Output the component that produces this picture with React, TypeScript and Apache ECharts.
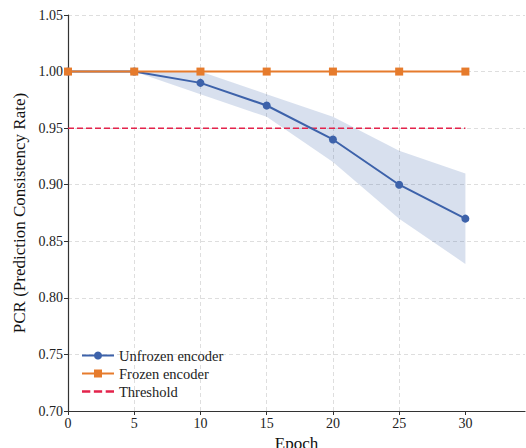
import React, { useEffect, useRef } from "react";
import * as echarts from "echarts";

const epochs = [0, 5, 10, 15, 20, 25, 30];
const unfrozen = [1.0, 1.0, 0.99, 0.97, 0.94, 0.9, 0.87];
const unfrozenUpper = [1.0, 1.0, 1.0, 0.98, 0.96, 0.93, 0.91];
const unfrozenLower = [1.0, 1.0, 0.98, 0.96, 0.92, 0.87, 0.83];
const frozen = [1.0, 1.0, 1.0, 1.0, 1.0, 1.0, 1.0];
const thresholdValue = 0.95;
const xTicks = [0, 5, 10, 15, 20, 25, 30];

const BLUE = "#3d62aa";
const ORANGE = "#e67b2c";
const RED = "#e3234b";
const FONT = "Liberation Serif";

export default function App() {
  const ref = useRef<HTMLDivElement>(null);
  useEffect(() => {
    const chart = echarts.init(ref.current!, null, { renderer: "svg" });
    chart.setOption({
      animation: false,
      textStyle: { fontFamily: FONT },
      grid: { left: 68, right: 1, top: 15, bottom: 37, containLabel: false, outerBoundsMode: "none" },
      legend: {
        left: 76,
        top: 343,
        orient: "vertical",
        itemWidth: 32,
        itemHeight: 10,
        itemGap: 3,
        textStyle: { fontFamily: FONT, fontSize: 14.5, color: "#222" },
        data: [
          "Unfrozen encoder",
          "Frozen encoder",
          {
            name: "Threshold",
            icon: "path://M0,4h7v2h-7zM10,4h7v2h-7zM20,4h7v2h-7z",
            itemStyle: { color: RED },
          },
        ],
      },
      xAxis: {
        type: "value",
        min: 0,
        max: 34.5,
        interval: 5,
        name: "Epoch",
        nameLocation: "middle",
        nameGap: 17,
        nameTextStyle: { fontFamily: FONT, fontSize: 17, color: "#111" },
        axisLine: { lineStyle: { color: "#333", width: 1.2 } },
        axisTick: { customValues: xTicks, length: 4, lineStyle: { color: "#333" } },
        axisLabel: {
          customValues: xTicks,
          fontFamily: FONT,
          fontSize: 14,
          color: "#222",
          margin: 5,
        },
        splitLine: {
          show: true,
          showMaxLine: false,
          lineStyle: { type: [4, 3], color: "#d6d6d6", width: 0.8 },
        },
      },
      yAxis: {
        type: "value",
        min: 0.7,
        max: 1.05,
        interval: 0.05,
        name: "PCR (Prediction Consistency Rate)",
        nameLocation: "middle",
        nameGap: 36,
        nameTextStyle: { fontFamily: FONT, fontSize: 17, color: "#111" },
        axisLine: { show: true, lineStyle: { color: "#333", width: 1.2 } },
        axisTick: { show: true, length: 4, lineStyle: { color: "#333" } },
        axisLabel: {
          fontFamily: FONT,
          fontSize: 14,
          color: "#222",
          margin: 5,
          formatter: (v: number) => v.toFixed(2),
        },
        splitLine: {
          show: true,
          lineStyle: { type: [4, 3], color: "#d6d6d6", width: 0.8 },
        },
      },
      series: [
        {
          name: "band",
          type: "custom",
          silent: true,
          z: 1,
          data: [0],
          renderItem: (params: any, api: any) => {
            const pts: number[][] = [];
            epochs.forEach((e, i) => pts.push(api.coord([e, unfrozenUpper[i]])));
            for (let i = epochs.length - 1; i >= 0; i--) pts.push(api.coord([epochs[i], unfrozenLower[i]]));
            return {
              type: "polygon",
              shape: { points: pts },
              style: { fill: BLUE, opacity: 0.2 },
            };
          },
        },
        {
          name: "Threshold",
          type: "line",
          data: [
            [0, thresholdValue],
            [30, thresholdValue],
          ],
          symbol: "none",
          color: RED,
          lineStyle: { color: RED, width: 1.5, type: [6, 3] },
          z: 2,
        },
        {
          name: "Unfrozen encoder",
          type: "line",
          data: epochs.map((e, i) => [e, unfrozen[i]]),
          symbol: "circle",
          symbolSize: 8,
          color: BLUE,
          lineStyle: { color: BLUE, width: 2 },
          itemStyle: { color: BLUE },
          z: 3,
        },
        {
          name: "Frozen encoder",
          type: "line",
          data: epochs.map((e, i) => [e, frozen[i]]),
          symbol: "rect",
          symbolSize: 8,
          color: ORANGE,
          lineStyle: { color: ORANGE, width: 2 },
          itemStyle: { color: ORANGE },
          z: 4,
        },
      ],
    });
    return () => chart.dispose();
  }, []);
  return <div ref={ref} style={{ width: 526, height: 448, position: "absolute", left: 0, top: 0 }} />;
}
